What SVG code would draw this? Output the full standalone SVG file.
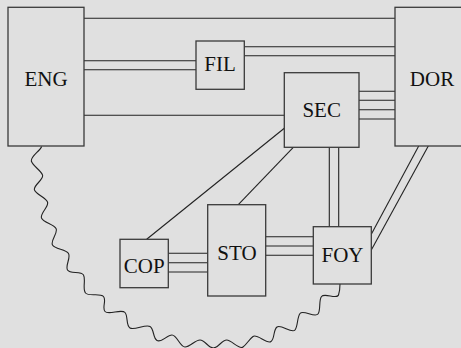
<svg xmlns="http://www.w3.org/2000/svg" width="461" height="348" viewBox="0 0 461 348">
<style>
.box{fill:#e0e0e0;stroke:#3a3a3a;stroke-width:1.3}
.lbl{font-family:'Liberation Serif','Times New Roman',serif;font-size:21px;fill:#111;text-anchor:middle}
.ln{fill:none;stroke:#222;stroke-width:1.1}
</style>
<rect x="0" y="0" width="461" height="348" fill="#e0e0e0"/>
<g id="connectors">
<line class="ln" x1="84" y1="18.3" x2="395" y2="18.3"/>
<line class="ln" x1="84" y1="60.7" x2="196" y2="60.7"/>
<line class="ln" x1="84" y1="69.7" x2="196" y2="69.7"/>
<line class="ln" x1="244" y1="46.7" x2="395" y2="46.7"/>
<line class="ln" x1="244" y1="55.7" x2="395" y2="55.7"/>
<line class="ln" x1="84" y1="115.3" x2="284.3" y2="115.3"/>
<line class="ln" x1="359" y1="91.3" x2="395" y2="91.3"/>
<line class="ln" x1="359" y1="100.3" x2="395" y2="100.3"/>
<line class="ln" x1="359" y1="109.7" x2="395" y2="109.7"/>
<line class="ln" x1="359" y1="119" x2="395" y2="119"/>
<line class="ln" x1="284.3" y1="128.3" x2="146.7" y2="239.3"/>
<line class="ln" x1="293.3" y1="147.3" x2="238.3" y2="204.7"/>
<line class="ln" x1="329.3" y1="147.3" x2="329.3" y2="226.7"/>
<line class="ln" x1="338.7" y1="147.3" x2="338.7" y2="226.7"/>
<line class="ln" x1="168.3" y1="253.3" x2="207.7" y2="253.3"/>
<line class="ln" x1="168.3" y1="262.7" x2="207.7" y2="262.7"/>
<line class="ln" x1="168.3" y1="272" x2="207.7" y2="272"/>
<line class="ln" x1="265.7" y1="236.7" x2="313.3" y2="236.7"/>
<line class="ln" x1="265.7" y1="246" x2="313.3" y2="246"/>
<line class="ln" x1="265.7" y1="255.3" x2="313.3" y2="255.3"/>
<line class="ln" x1="418.7" y1="146" x2="371.3" y2="234.3"/>
<line class="ln" x1="428.3" y1="146" x2="371.3" y2="250"/>
<path class="ln" d="M41.7,146.5 C39.7,151.5 29.75,156.8 31.5,161.5 C33.25,166.2 40.75,170.3 42.5,175 C44.25,179.7 32.75,185.3 34.5,190 C36.25,194.7 45.75,197.3 47.5,202 C49.25,206.7 39.75,213.3 41.5,218 C43.25,222.7 53.5,224.15 56,228.5 C58.5,232.85 50,240.65 52.5,245 C55,249.35 66,249.15 68.5,253.5 C71,257.85 65,265.65 67.5,270 C70,274.35 81,270.65 83.5,275 C86,279.35 82.25,289.2 85.5,293 C88.75,296.8 100.25,292.7 103.5,296.5 C106.75,300.3 101.75,307.7 105,311.5 C108.25,315.3 121.75,308.7 125,312.5 C128.25,316.3 125.75,325.35 130,328 C134.25,330.65 145.75,323.85 150,326.5 C154.25,329.15 152.75,337.85 157,340.5 C161.25,343.15 167,335 172,335 C177,335 180,347 185,347 C190,347 195,340 200,340 C205,340 208.3,348 213.3,348 C218.3,348 221.7,340 226.7,340 C231.7,340 239,350 243,347 C247,344 249,339.5 253,336.5 C257,333.5 267,344.5 271,341.5 C275,338.5 273,330 277,327 C281,324 292,334 295,330 C298,326 297,317.5 300,313.5 C303,309.5 315,318 318,314 C321,310 318.5,300.5 321.5,296.5 C324.5,292.5 337,299.75 338.5,295 C340,290.25 340,289 340,284"/>
</g>
<g id="ENG"><rect class="box" x="8" y="7.3" width="76" height="138.7"/><text class="lbl" x="46" y="86">ENG</text></g>
<g id="DOR"><rect class="box" x="395" y="7.3" width="74" height="138.7"/><text class="lbl" x="432" y="86">DOR</text></g>
<g id="FIL"><rect class="box" x="196" y="41" width="48.3" height="48.3"/><text class="lbl" x="220" y="71">FIL</text></g>
<g id="SEC"><rect class="box" x="284.3" y="72.7" width="74.7" height="74.6"/><text class="lbl" x="321.7" y="117.3">SEC</text></g>
<g id="COP"><rect class="box" x="120" y="239.3" width="48.3" height="48.4"/><text class="lbl" x="144.2" y="273.3">COP</text></g>
<g id="STO"><rect class="box" x="207.7" y="204.7" width="58" height="91.3"/><text class="lbl" x="237" y="260">STO</text></g>
<g id="FOY"><rect class="box" x="313.3" y="226.7" width="58" height="57.3"/><text class="lbl" x="342.5" y="262.3">FOY</text></g>
</svg>
